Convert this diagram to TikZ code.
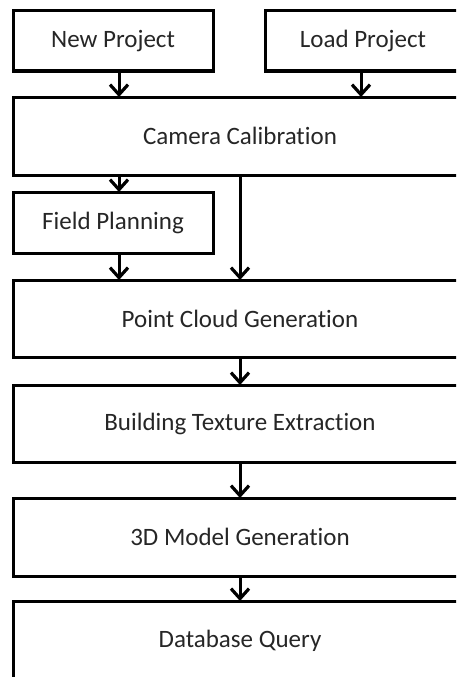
\documentclass[tikz,border=0pt]{standalone}
\usepackage{fontspec}
\setmainfont{Carlito}[Ligatures={NoCommon}]
\usetikzlibrary{arrows.meta}
\begin{document}
\begin{tikzpicture}[x=1pt,y=-1pt,
  box/.style={draw, line width=3pt, inner sep=0pt, outer sep=0pt, anchor=north west,
    font=\fontsize{25}{30}\selectfont, text=black!85},
  arr/.style={line width=3pt, -{Straight Barb[length=10pt,width=18pt,line width=3.2pt]}}]
\useasboundingbox (0,0) rectangle (456,677);
\fill[white] (0,0) rectangle (456,677);
\clip (0,0) rectangle (456,677);
\node[box, minimum width=200pt, minimum height=60pt] (new) at (13,11) {New Project};
\node[box, minimum width=196pt, minimum height=60pt] (load) at (265,11) {Load Project};
\node[box, minimum width=454pt, minimum height=78pt] (cam) at (13,97) {Camera Calibration};
\node[box, minimum width=200pt, minimum height=61pt] (field) at (13,192) {Field Planning};
\node[box, minimum width=454pt, minimum height=77pt] (pcg) at (13,280) {Point Cloud Generation};
\node[box, minimum width=454pt, minimum height=77pt] (bte) at (13,385) {Building Texture Extraction};
\node[box, minimum width=454pt, minimum height=78pt] (mdl) at (13,498) {3D Model Generation};
\node[box, minimum width=454pt, minimum height=80pt] (db) at (13,601) {Database Query};
\coordinate (xL) at (119,0);
\coordinate (xM) at (240,0);
\coordinate (xR) at (361,0);
\draw[arr] (new.south -| xL) -- (cam.north -| xL);
\draw[arr] (load.south -| xR) -- (cam.north -| xR);
\draw[arr] (cam.south -| xL) -- (field.north -| xL);
\draw[arr] (cam.south -| xM) -- (pcg.north -| xM);
\draw[arr] (field.south -| xL) -- (pcg.north -| xL);
\draw[arr] (pcg.south -| xM) -- (bte.north -| xM);
\draw[arr] (bte.south -| xM) -- (mdl.north -| xM);
\draw[arr] (mdl.south -| xM) -- (db.north -| xM);
\end{tikzpicture}
\end{document}
